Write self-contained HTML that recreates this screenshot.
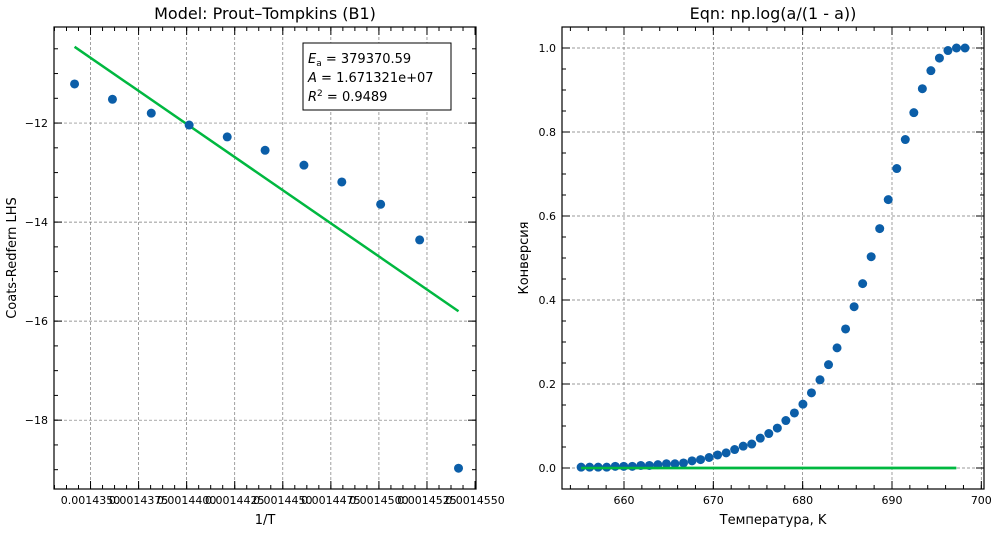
<!DOCTYPE html>
<html><head><meta charset="utf-8"><style>
body{margin:0;background:#fff;font-family:"Liberation Sans","DejaVu Sans",sans-serif}
svg text{font-family:"DejaVu Sans","Liberation Sans",sans-serif}
</style></head><body>
<svg id="c" width="997" height="530" xmlns="http://www.w3.org/2000/svg"></svg>
<script>
// Left chart data
const leftX=[0.00143417,0.00143614,0.00143816,0.00144013,0.00144211,0.00144408,0.00144610,0.00144807,0.00145009,0.00145212,0.00145414];
const leftY=[-11.21,-11.52,-11.80,-12.04,-12.28,-12.55,-12.85,-13.19,-13.64,-14.36,-18.97];
const fitX=[0.00143417,0.00145414];
const fitY=[-10.46,-15.80];
const leftXTicks=["0.0014350","0.0014375","0.0014400","0.0014425","0.0014450","0.0014475","0.0014500","0.0014525","0.0014550"];
const leftYTicks=["−12","−14","−16","−18"];
// Right chart data
const T0=655.2, dT=0.955;
const conv=[0.002,0.002,0.002,0.002,0.004,0.004,0.004,0.006,0.006,0.008,0.010,0.010,0.012,0.017,0.020,0.025,0.031,0.036,0.044,0.052,0.057,0.071,0.082,0.095,0.113,0.131,0.152,0.179,0.210,0.246,0.286,0.331,0.384,0.439,0.503,0.570,0.639,0.713,0.782,0.846,0.903,0.946,0.976,0.994,1.0,1.0];
const rightFitX=[655.2,697.2];
const rightFitY=[0,0];
const rightXTicks=["660","670","680","690","700"];
const rightYTicks=["0.0","0.2","0.4","0.6","0.8","1.0"];

const NS="http://www.w3.org/2000/svg";
const svg=document.getElementById('c');
function el(t,a,p){const e=document.createElementNS(NS,t);for(const k in a)e.setAttribute(k,a[k]);(p||svg).appendChild(e);return e;}

function axes(o){
  const g=el('g',{});
  
  
  const sx=v=>o.x0+(v-o.xmin)/(o.xmax-o.xmin)*(o.x1-o.x0);
  const sy=v=>o.y1-(v-o.ymin)/(o.ymax-o.ymin)*(o.y1-o.y0);
  o.xmaj.forEach(v=>{const x=sx(v);if(x>o.x0+1&&x<o.x1-1)el('line',{x1:x,x2:x,y1:o.y0,y2:o.y1,stroke:'#777','stroke-width':0.7,'stroke-dasharray':'3,2'},g);});
  o.ymaj.forEach(v=>{const y=sy(v);el('line',{x1:o.x0,x2:o.x1,y1:y,y2:y,stroke:'#777','stroke-width':0.7,'stroke-dasharray':'3,2'},g);});
  const tk=(x1,y1,x2,y2)=>el('line',{x1,y1,x2,y2,stroke:'#000','stroke-width':1},g);
  o.xmin_.forEach(v=>{const x=sx(v);if(x<o.x0||x>o.x1)return;tk(x,o.y1,x,o.y1-4);tk(x,o.y0,x,o.y0+4);});
  o.xmaj.forEach(v=>{const x=sx(v);tk(x,o.y1,x,o.y1-8);tk(x,o.y0,x,o.y0+8);});
  o.ymin_.forEach(v=>{const y=sy(v);if(y<o.y0||y>o.y1)return;tk(o.x0,y,o.x0+4,y);tk(o.x1,y,o.x1-4,y);});
  o.ymaj.forEach(v=>{const y=sy(v);tk(o.x0,y,o.x0+8,y);tk(o.x1,y,o.x1-8,y);});
  o.xmaj.forEach((v,i)=>{const t=el('text',{x:sx(v),y:o.y1+15,'font-size':11,'text-anchor':'middle'},g);t.textContent=o.xl[i];});
  o.ymaj.forEach((v,i)=>{const t=el('text',{x:o.x0-6,y:sy(v)+4,'font-size':11,'text-anchor':'end'},g);t.textContent=o.yl[i];});
  const ln=el('line',{x1:sx(o.fx[0]),y1:sy(o.fy[0]),x2:sx(o.fx[1]),y2:sy(o.fy[1]),stroke:'#00b840','stroke-width':2.5},g);
  
  o.px.forEach((v,i)=>{const c=el('circle',{cx:sx(v),cy:sy(o.py[i]),r:4.5,fill:'#0b5ea8'},g);});
  if(o.lineOnTop){const l2=el('line',{x1:sx(o.fx[0]),y1:sy(o.fy[0]),x2:sx(o.fx[1]),y2:sy(o.fy[1]),stroke:'#00b840','stroke-width':2.5},g);}
  el('rect',{x:o.x0,y:o.y0,width:o.x1-o.x0,height:o.y1-o.y0,fill:'none',stroke:'#000','stroke-width':1.2},g);
  const tt=el('text',{x:(o.x0+o.x1)/2,y:o.y0-8,'font-size':16,'text-anchor':'middle'},g);tt.textContent=o.title;
  const xt=el('text',{x:(o.x0+o.x1)/2,y:o.y1+35,'font-size':13,'text-anchor':'middle'},g);xt.textContent=o.xt;
  const cy=(o.y0+o.y1)/2;const yt=el('text',{x:o.ytx,y:cy,'font-size':13,'text-anchor':'middle',transform:`rotate(-90 ${o.ytx} ${cy})`},g);yt.textContent=o.yt;
  return g;
}
const range=(a,b,s)=>{const r=[];for(let v=a;v<=b+s*1e-6;v+=s)r.push(+v.toFixed(12));return r;};
axes({name:'left-chart',x0:54,x1:476,y0:27,y1:489,xmin:0.0014331,xmax:0.00145505,ymin:-19.39,ymax:-10.06,
  xmaj:range(0.001435,0.001455,0.0000025),xmin_:range(0.0014325,0.001455,0.000000625),
  ymaj:[-12,-14,-16,-18],ymin_:range(-19,-10.5,0.5),xl:leftXTicks,yl:leftYTicks,
  px:leftX,py:leftY,fx:fitX,fy:fitY,title:'Model: Prout–Tompkins (B1)',xt:'1/T',yt:'Coats-Redfern LHS',ytx:16});
axes({name:'right-chart',x0:562,x1:984,y0:27,y1:489,xmin:653.06,xmax:700.3,ymin:-0.05,ymax:1.05,
  xmaj:[660,670,680,690,700],xmin_:range(654,700,2),ymaj:[0,0.2,0.4,0.6,0.8,1.0],ymin_:range(-0.05,1.05,0.05),
  xl:rightXTicks,yl:rightYTicks,px:conv.map((v,i)=>T0+i*dT),py:conv,fx:rightFitX,fy:rightFitY,lineOnTop:true,
  title:'Eqn: np.log(a/(1 - a))',xt:'Температура, K',yt:'Конверсия',ytx:528});
const lg=el('g',{});
el('rect',{x:303,y:43,width:148,height:67,fill:'#fff',stroke:'#000','stroke-width':1},lg);
const lines=[['E','a',' = 379370.59'],['A','',' = 1.671321e+07'],['R','2',' = 0.9489']];
lines.forEach((l,i)=>{const t=el('text',{x:308,y:63+i*19,'font-size':13},lg);
  
  const a=el('tspan',{'font-style':'italic'},t);a.textContent=l[0];
  if(l[1]){const s=el('tspan',{'font-size':9,dy:i==2?-5:3},t);s.textContent=l[1];const r=el('tspan',{dy:i==2?5:-3},t);r.textContent=l[2];}
  else{const r=el('tspan',{},t);r.textContent=l[2];}});
</script>
</body></html>
